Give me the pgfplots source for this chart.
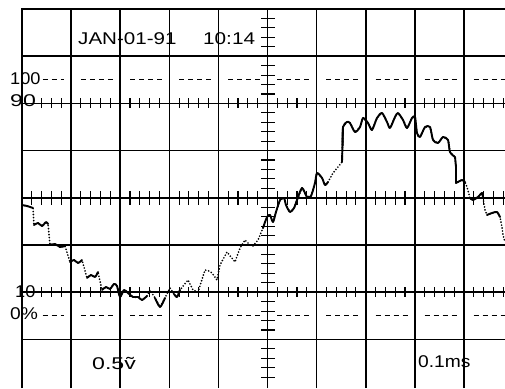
\documentclass[border=0pt]{standalone}
\usepackage{pgfplots}
\pgfplotsset{compat=1.18}
\usepackage{pgfplotstable}
\usepackage{graphicx}
\usepackage{fontspec}
\setmainfont{Liberation Sans}

% minor graticule positions (divisions)
\pgfplotstableread{
t z
0.2 0
0.4 0
0.6 0
0.8 0
1.2 0
1.4 0
1.6 0
1.8 0
2.2 0
2.4 0
2.6 0
2.8 0
3.2 0
3.4 0
3.6 0
3.8 0
4.2 0
4.4 0
4.6 0
4.8 0
5.2 0
5.4 0
5.6 0
5.8 0
6.2 0
6.4 0
6.6 0
6.8 0
7.2 0
7.4 0
7.6 0
7.8 0
8.2 0
8.4 0
8.6 0
8.8 0
9.2 0
9.4 0
9.6 0
9.8 0
}\tickpos

% full trace (divisions: x time, y amplitude)
\pgfplotstableread{
x y
0.000 3.847
0.102 3.826
0.224 3.784
0.244 3.424
0.326 3.466
0.407 3.403
0.489 3.487
0.530 3.445
0.570 3.000
0.672 3.021
0.774 2.958
0.876 2.979
0.978 2.640
1.059 2.682
1.141 2.619
1.222 2.682
1.324 2.301
1.405 2.364
1.487 2.322
1.548 2.428
1.629 2.047
1.711 2.110
1.792 2.068
1.874 2.174
1.935 2.131
1.996 1.898
2.077 2.047
2.159 1.983
2.261 1.898
2.363 1.898
2.444 1.835
2.546 1.920
2.607 2.047
2.709 1.877
2.811 1.687
2.912 1.877
3.014 2.089
3.096 1.962
3.157 1.898
3.218 2.047
3.299 2.153
3.381 2.258
3.483 2.047
3.585 2.004
3.727 2.470
3.809 2.449
3.870 2.407
3.971 2.258
4.033 2.576
4.175 2.852
4.338 2.640
4.440 2.936
4.542 3.106
4.644 3.000
4.705 2.979
4.807 3.106
4.908 3.360
4.990 3.593
5.051 3.636
5.112 3.487
5.173 3.699
5.255 3.953
5.336 3.996
5.377 3.847
5.458 3.699
5.540 3.784
5.601 3.953
5.703 4.208
5.804 4.017
5.886 4.038
5.967 4.314
6.008 4.525
6.110 4.420
6.171 4.271
6.232 4.335
6.334 4.525
6.436 4.653
6.517 4.758
6.538 5.500
6.619 5.606
6.680 5.585
6.782 5.394
6.884 5.500
6.945 5.691
7.047 5.585
7.128 5.437
7.230 5.691
7.332 5.797
7.434 5.606
7.495 5.479
7.597 5.712
7.658 5.797
7.760 5.648
7.841 5.479
7.943 5.691
8.004 5.712
8.045 5.373
8.106 5.288
8.208 5.500
8.310 5.500
8.371 5.225
8.473 5.161
8.574 5.288
8.676 5.225
8.717 4.970
8.819 4.864
8.839 4.653
8.839 4.314
8.961 4.377
9.022 4.335
9.063 4.229
9.124 3.996
9.185 3.953
9.287 4.017
9.369 4.102
9.389 3.996
9.430 3.742
9.470 3.636
9.572 3.678
9.674 3.699
9.735 3.593
9.776 3.381
9.796 3.212
9.837 3.064
}\trace

\begin{document}
\begin{tikzpicture}
\begin{axis}[
  scale only axis, width=505pt, height=388pt,
  xmin=-0.448, xmax=9.837, ymin=-0.03, ymax=8.191,
  axis line style={draw=none}, xtick=\empty, ytick=\empty,
  unbounded coords=jump,
]
% graticule: vertical lines
\addplot[black, line width=1.6pt, forget plot] coordinates {
 (0,-0.03) (0,8) (nan,nan) (1,-0.03) (1,8) (nan,nan) (2,-0.03) (2,8) (nan,nan)
 (3,-0.03) (3,8) (nan,nan) (4,-0.03) (4,8) (nan,nan) (5,-0.03) (5,8) (nan,nan)
 (6,-0.03) (6,8) (nan,nan) (7,-0.03) (7,8) (nan,nan) (8,-0.03) (8,8) (nan,nan)
 (9,-0.03) (9,8)};
% graticule: horizontal lines
\addplot[black, line width=1.6pt, forget plot] coordinates {
 (0,1) (9.837,1) (nan,nan) (0,2) (9.837,2) (nan,nan) (0,3) (9.837,3) (nan,nan)
 (0,4) (9.837,4) (nan,nan) (0,5) (9.837,5) (nan,nan) (0,6) (9.837,6) (nan,nan)
 (0,7) (9.837,7) (nan,nan) (-0.016,8) (9.837,8)};
% 0% and 100% dashed reference lines
\addplot[black, line width=1.2pt, dash pattern=on 5pt off 4pt, forget plot] coordinates {
 (0.42,6.5) (0.86,6.5) (nan,nan) (1.2,6.5) (1.86,6.5) (nan,nan) (2.2,6.5) (2.86,6.5) (nan,nan)
 (3.2,6.5) (3.86,6.5) (nan,nan) (4.2,6.5) (4.86,6.5) (nan,nan) (5.2,6.5) (5.86,6.5) (nan,nan)
 (6.2,6.5) (6.86,6.5) (nan,nan) (7.2,6.5) (7.86,6.5) (nan,nan) (8.2,6.5) (8.86,6.5) (nan,nan)
 (9.2,6.5) (9.837,6.5)};
\addplot[black, line width=1.2pt, dash pattern=on 5pt off 4pt, forget plot] coordinates {
 (0.42,1.5) (0.86,1.5) (nan,nan) (1.2,1.5) (1.86,1.5) (nan,nan) (2.2,1.5) (2.86,1.5) (nan,nan)
 (3.2,1.5) (3.86,1.5) (nan,nan) (4.2,1.5) (4.86,1.5) (nan,nan) (5.2,1.5) (5.86,1.5) (nan,nan)
 (6.2,1.5) (6.86,1.5) (nan,nan) (7.2,1.5) (7.86,1.5) (nan,nan) (8.2,1.5) (8.86,1.5) (nan,nan)
 (9.2,1.5) (9.837,1.5)};
% minor ticks
\addplot[only marks, mark=|, mark size=7pt, mark options={black, line width=1.1pt}, forget plot]
  table[x=t, y expr=4] {\tickpos};
\addplot[only marks, mark=|, mark size=5pt, mark options={black, line width=1.1pt}, forget plot, restrict x to domain=0.3:10]
  table[x=t, y expr=6] {\tickpos};
\addplot[only marks, mark=|, mark size=5pt, mark options={black, line width=1.1pt}, forget plot, restrict x to domain=0.3:10]
  table[x=t, y expr=2] {\tickpos};
\addplot[only marks, mark=-, mark size=7pt, mark options={black, line width=1.1pt}, forget plot, restrict y to domain=0:7.9]
  table[x expr=5, y=t] {\tickpos};
% trace: dotted
\addplot[black, line width=1.9pt, line cap=round, dash pattern=on 0pt off 3pt, forget plot]
  table[x=x, y=y] {\trace};
% trace: solid portions
\addplot[black, line width=1.9pt, smooth, tension=0.45, line join=round, line cap=round, forget plot] coordinates {
 (0,3.847)(0.102,3.826)(0.224,3.784) (nan,nan)
 (0.244,3.424)(0.326,3.466)(0.407,3.403)(0.489,3.487)(0.530,3.445) (nan,nan)
 (0.570,3.000)(0.672,3.021)(0.774,2.958)(0.876,2.979) (nan,nan)
 (0.978,2.640)(1.059,2.682)(1.141,2.619)(1.222,2.682) (nan,nan)
 (1.324,2.301)(1.405,2.364)(1.487,2.322)(1.548,2.428) (nan,nan)
 (1.629,2.047)(1.711,2.110)(1.792,2.068)(1.874,2.174)(1.935,2.131)(1.996,1.898)(2.077,2.047)(2.159,1.983)(2.261,1.898)(2.363,1.898)(2.444,1.835)(2.546,1.920) (nan,nan)
 (2.709,1.877)(2.811,1.687)(2.912,1.877) (nan,nan)
 (3.096,1.962)(3.157,1.898)(3.218,2.047) (nan,nan)
 (4.908,3.360)(4.990,3.593)(5.051,3.636)(5.112,3.487)(5.173,3.699)(5.255,3.953)(5.336,3.996)(5.377,3.847)(5.458,3.699)(5.540,3.784)(5.601,3.953)(5.703,4.208)(5.804,4.017)(5.886,4.038)(5.967,4.314)(6.008,4.525)(6.110,4.420)(6.171,4.271)(6.232,4.335) (nan,nan)
 (6.530,5.100)(6.538,5.500)(6.619,5.606)(6.680,5.585)(6.782,5.394)(6.884,5.500)(6.945,5.691)(7.047,5.585)(7.128,5.437)(7.230,5.691)(7.332,5.797)(7.434,5.606)(7.495,5.479)(7.597,5.712)(7.658,5.797)(7.760,5.648)(7.841,5.479)(7.943,5.691)(8.004,5.712)(8.045,5.373)(8.106,5.288)(8.208,5.500)(8.310,5.500)(8.371,5.225)(8.473,5.161)(8.574,5.288)(8.676,5.225)(8.717,4.970)(8.819,4.864) (nan,nan)
 (8.839,4.314)(8.961,4.377)(9.022,4.335) (nan,nan)
 (9.124,3.996)(9.185,3.953)(9.287,4.017)(9.369,4.102)(9.389,3.996) (nan,nan)
 (9.470,3.636)(9.572,3.678)(9.674,3.699)(9.735,3.593)};
\addplot[black, line width=1.9pt, line cap=round, forget plot] coordinates {
 (6.517,4.758)(6.538,5.500) (nan,nan) (8.819,4.864)(8.839,4.653)(8.839,4.314)};
% screen annotations
\node[anchor=base west, inner sep=0pt, font=\fontsize{17}{17}\selectfont] at (axis cs:1.141,7.258) {\scalebox{1.21}[1]{JAN-01-91}};
\node[anchor=base west, inner sep=0pt, font=\fontsize{17}{17}\selectfont] at (axis cs:3.686,7.258) {\scalebox{1.22}[1]{10:14}};
\node[anchor=base west, inner sep=0pt, font=\fontsize{17}{17}\selectfont] at (axis cs:-0.244,6.411) {\scalebox{1.07}[1]{100}};
\node[anchor=base west, inner sep=0pt, font=\fontsize{17}{17}\selectfont] at (axis cs:-0.244,5.924) {\scalebox{1.36}[1]{90}};
\node[anchor=base west, inner sep=0pt, font=\fontsize{17}{17}\selectfont] at (axis cs:-0.143,1.898) {\scalebox{1.07}[1]{10}};
\node[anchor=base west, inner sep=0pt, font=\fontsize{17}{17}\selectfont] at (axis cs:-0.244,1.411) {\scalebox{1.13}[1]{0\%}};
\node[anchor=base west, inner sep=0pt, font=\fontsize{17}{17}\selectfont] at (axis cs:1.426,0.352) {\scalebox{1.36}[1]{0.5\~{v}}};
\node[anchor=base west, inner sep=0pt, font=\fontsize{17}{17}\selectfont] at (axis cs:8.065,0.394) {\scalebox{1.13}[1]{0.1ms}};
\end{axis}
\end{tikzpicture}
\end{document}
